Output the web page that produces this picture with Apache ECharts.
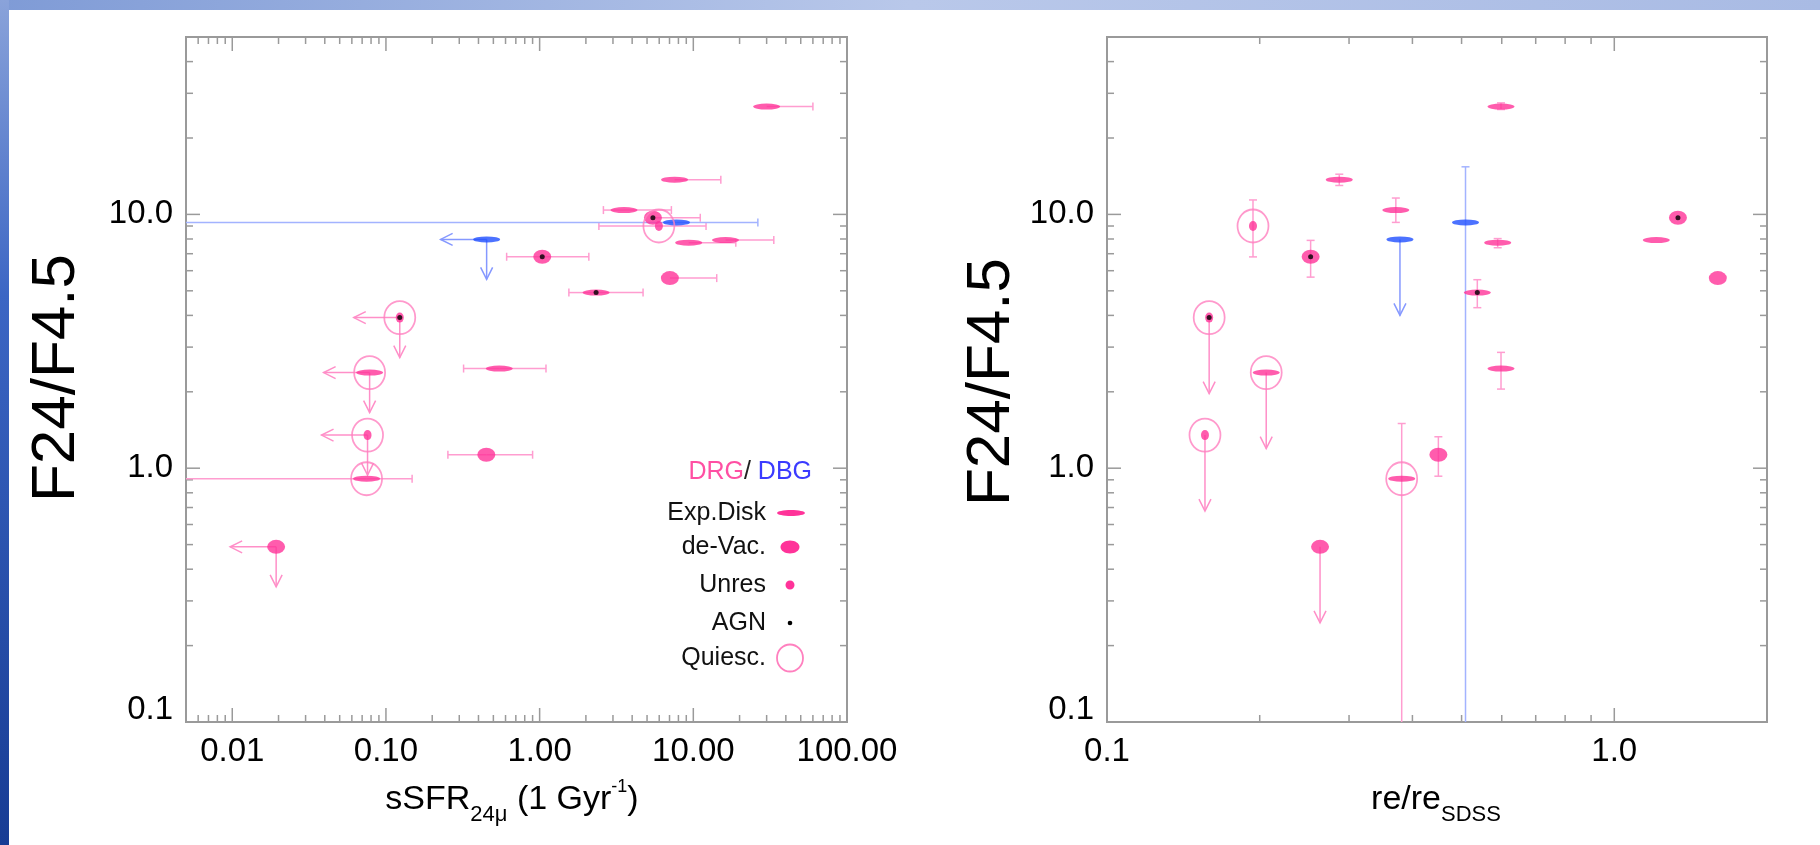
<!DOCTYPE html>
<html><head><meta charset="utf-8">
<script src="https://cdn.jsdelivr.net/npm/echarts@6/dist/echarts.min.js"></script>
<style>html,body{margin:0;padding:0;background:#fff;}#c{width:1820px;height:845px;}</style>
</head><body><div id="c"></div><script>
// ---------------- data (one entry per galaxy) ----------------
const sSFR    = [30.0, 7.55, 3.54, 5.46, 5.97, 7.77, 0.452, 9.33, 16.2, 1.04, 7.04, 2.33, 0.123, 0.0783, 0.546, 0.0759, 0.0748, 0.450, 0.0193];
const sSFRlo  = [null, null, 2.60, null, 2.43, 0.001, null, null, null, 0.61, null, 1.55, null, null, 0.32, null, 0.001, 0.253, null];
const sSFRhi  = [60.0, 15.1, 7.20, 11.1, 12.1, 26.3, null, 18.9, 33.4, 2.09, 14.2, 4.71, null, null, 1.10, null, 0.148, 0.90, null];
const reRatio = [0.598, 0.287, 0.371, 1.335, 0.194, 0.509, 0.378, 0.589, 1.21, 0.252, 1.60, 0.537, 0.159, 0.206, 0.598, 0.156, 0.381, 0.450, 0.263];
const fRatio  = [26.6, 13.7, 10.4, 9.7, 9.0, 9.3, 7.97, 7.74, 7.92, 6.81, 5.61, 4.92, 3.92, 2.38, 2.47, 1.35, 0.909, 1.13, 0.49];
const fLo     = [25.9, 13.0, 9.3, null, 6.8, 0.01, null, 7.39, null, 5.66, null, 4.29, null, null, 2.05, null, 0.01, 0.93, null];
const fHi     = [27.5, 14.4, 11.6, null, 11.4, 15.4, null, 8.03, null, 7.9, null, 5.53, null, null, 2.86, null, 1.50, 1.33, null];
const morph   = ['Exp','Exp','Exp','deV','Unres','Exp','Exp','Exp','Exp','deV','deV','Exp','Unres','Exp','Exp','Unres','Exp','deV','deV'];
const sample  = ['DRG','DRG','DRG','DRG','DRG','DBG','DBG','DRG','DRG','DRG','DRG','DRG','DRG','DRG','DRG','DRG','DRG','DRG','DRG'];
const agn     = [0,0,0,1,0,0,0,0,0,1,0,1,1,0,0,0,0,0,0];
const quiesc  = [0,0,0,0,1,0,0,0,0,0,0,0,1,1,0,1,1,0,0];
const limit   = [0,0,0,0,0,0,1,0,0,0,0,0,1,1,0,1,0,0,1];

// tick labels
const leftXTicks  = [0.01, 0.1, 1, 10, 100];
const leftXLabels = ['0.01', '0.10', '1.00', '10.00', '100.00'];
const rightXTicks  = [0.1, 1];
const rightXLabels = ['0.1', '1.0'];
const yTicks  = [0.1, 1, 10];
const yLabels = ['0.1', '1.0', '10.0'];

const legendRows = ['Exp.Disk', 'de-Vac.', 'Unres', 'AGN', 'Quiesc.'];

// ---------------- styles ----------------
const FONT = '"Liberation Sans", Arial, Helvetica, sans-serif';
const PINK = '#ff3399', PINK_L = '#ff9dd0', PINK_C = '#ff80bf';
const BLUE = '#1f4fff', BLUE_L = '#a3b3ff';
const FRAME = '#9a9a9a';
const SIZE = {Exp: [27, 6], deV: [18, 14], Unres: [8, 10]};

const chart = echarts.init(document.getElementById('c'), null, {renderer: 'canvas', width: 1820, height: 845});

function labelFor(v, ticks, labels) {
  for (let k = 0; k < ticks.length; k++) {
    if (Math.abs(Math.log10(v) - Math.log10(ticks[k])) < 1e-6) return labels[k];
  }
  return '';
}
function minorTicks(min, max) {
  const out = [];
  for (let e = Math.floor(Math.log10(min)) - 1; e <= Math.ceil(Math.log10(max)); e++) {
    for (let m = 1; m <= 9; m++) {
      const v = m * Math.pow(10, e);
      if (v >= min * 0.9999 && v <= max * 1.0001) out.push([v, m === 1 ? 1 : 0]);
    }
  }
  return out;
}
const XL = [0.005, 100], XR = [0.1, 2], YR = [0.1, 50];

function tickData(xr, yr) {
  const d = [];
  minorTicks(xr[0], xr[1]).forEach(t => d.push([t[0], yr[0], t[1], 0]));
  minorTicks(yr[0], yr[1]).forEach(t => d.push([xr[0], t[0], t[1], 1]));
  return d;
}
function tickRender(params, api) {
  const cs = params.coordSys;
  const major = api.value(2), kind = api.value(3);
  const len = major ? 14 : 7;
  const p = api.coord([api.value(0), api.value(1)]);
  const st = {stroke: FRAME, lineWidth: 1.5, fill: 'none'};
  if (kind === 0) {
    const x = p[0], b = cs.y + cs.height, t = cs.y;
    return {type: 'group', children: [
      {type: 'line', shape: {x1: x, y1: b, x2: x, y2: b - len}, style: st},
      {type: 'line', shape: {x1: x, y1: t, x2: x, y2: t + len}, style: st}]};
  }
  const y = p[1], l = cs.x, r = cs.x + cs.width;
  return {type: 'group', children: [
    {type: 'line', shape: {x1: l, y1: y, x2: l + len, y2: y}, style: st},
    {type: 'line', shape: {x1: r, y1: y, x2: r - len, y2: y}, style: st}]};
}

function errRender(horizontal) {
  return function (params, api) {
    const i = api.value(2);
    const x = api.value(0), y = api.value(1);
    const p = api.coord([x, y]);
    const st = {stroke: sample[i] === 'DBG' ? BLUE_L : PINK_L, lineWidth: 1.5, fill: 'none'};
    const bounds = horizontal ? [sSFRlo[i], sSFRhi[i]] : [fLo[i], fHi[i]];
    const ch = [];
    bounds.forEach(b => {
      if (b == null) return;
      const q = horizontal ? api.coord([b, y]) : api.coord([x, b]);
      ch.push({type: 'line', shape: {x1: p[0], y1: p[1], x2: q[0], y2: q[1]}, style: st});
      if (horizontal) ch.push({type: 'line', shape: {x1: q[0], y1: q[1] - 4, x2: q[0], y2: q[1] + 4}, style: st});
      else ch.push({type: 'line', shape: {x1: q[0] - 4, y1: q[1], x2: q[0] + 4, y2: q[1]}, style: st});
    });
    return {type: 'group', children: ch};
  };
}

function arrowRender(leftLen, downLen) {
  return function (params, api) {
    const i = api.value(2);
    const p = api.coord([api.value(0), api.value(1)]);
    const st = {stroke: sample[i] === 'DBG' ? '#8598ff' : '#ff8fc8', lineWidth: 1.5, fill: 'none'};
    const ch = [];
    if (leftLen > 0) {
      const ex = p[0] - leftLen, ey = p[1];
      ch.push({type: 'line', shape: {x1: p[0], y1: ey, x2: ex, y2: ey}, style: st});
      ch.push({type: 'polyline', shape: {points: [[ex + 12, ey - 6], [ex, ey], [ex + 12, ey + 6]]}, style: st});
    }
    const dx = p[0], dy = p[1] + downLen;
    ch.push({type: 'line', shape: {x1: dx, y1: p[1], x2: dx, y2: dy}, style: st});
    ch.push({type: 'polyline', shape: {points: [[dx - 6, dy - 12], [dx, dy], [dx + 6, dy - 12]]}, style: st});
    return {type: 'group', children: ch};
  };
}

const xsOf = [sSFR, reRatio];
function idx(pred) { const a = []; for (let i = 0; i < fRatio.length; i++) if (pred(i)) a.push(i); return a; }

const series = [];
[0, 1].forEach(g => {
  const xr = g === 0 ? XL : XR;
  const X = xsOf[g];
  series.push({type: 'custom', name: 'ticks' + g, xAxisIndex: g, yAxisIndex: g, silent: true, clip: false, z: 1,
    data: tickData(xr, YR), renderItem: tickRender});
  series.push({type: 'custom', name: 'errors' + g, xAxisIndex: g, yAxisIndex: g, silent: true, clip: true, z: 2,
    data: idx(i => g === 0 ? (sSFRlo[i] != null || sSFRhi[i] != null) : (fLo[i] != null || fHi[i] != null))
      .map(i => [X[i], fRatio[i], i]),
    renderItem: errRender(g === 0)});
  series.push({type: 'custom', name: 'limits' + g, xAxisIndex: g, yAxisIndex: g, silent: true, clip: true, z: 3,
    data: idx(i => limit[i]).map(i => [X[i], fRatio[i], i]),
    renderItem: g === 0 ? arrowRender(46, 40) : arrowRender(0, 76)});
  [['Exp', 'Exp.Disk'], ['deV', 'de-Vac.'], ['Unres', 'Unres']].forEach(([m, nm]) => {
    series.push({type: 'scatter', name: nm, xAxisIndex: g, yAxisIndex: g, symbol: 'circle', symbolSize: SIZE[m], z: 4,
      data: idx(i => morph[i] === m).map(i => ({value: [X[i], fRatio[i]], itemStyle: {color: sample[i] === 'DBG' ? BLUE : PINK}}))});
  });
  series.push({type: 'scatter', name: 'AGN', xAxisIndex: g, yAxisIndex: g, symbol: 'circle', symbolSize: 5, z: 5,
    itemStyle: {color: '#000'}, data: idx(i => agn[i]).map(i => [X[i], fRatio[i]])});
  series.push({type: 'scatter', name: 'Quiesc.', xAxisIndex: g, yAxisIndex: g, symbol: 'circle', symbolSize: [31, 33], z: 6,
    itemStyle: {color: 'rgba(0,0,0,0)', borderColor: PINK_C, borderWidth: 1.8},
    data: idx(i => quiesc[i]).map(i => [X[i], fRatio[i]])});
});

function xAx(g, r, ticks, labels) {
  return {type: 'log', logBase: 10, gridIndex: g, min: r[0], max: r[1],
    axisLine: {show: false}, axisTick: {show: false}, splitLine: {show: false},
    axisLabel: {show: true, showMinLabel: true, showMaxLabel: true, margin: 13, fontSize: 33, fontFamily: FONT, color: '#000',
      formatter: v => labelFor(v, ticks, labels)}};
}
function yAx(g) {
  return {type: 'log', logBase: 10, gridIndex: g, min: YR[0], max: YR[1],
    axisLine: {show: false}, axisTick: {show: false}, splitLine: {show: false},
    axisLabel: {show: true, showMinLabel: true, showMaxLabel: true, margin: 13, fontSize: 33, fontFamily: FONT, color: '#000',
      formatter: v => { const s = labelFor(v, yTicks, yLabels); return s === '0.1' ? '{lo|0.1}' : s; },
      rich: {lo: {fontSize: 33, fontFamily: FONT, color: '#000', padding: [0, 0, 24, 0]}}}};
}

// legend (manual key, as in the figure)
const legendG = [];
legendG.push({type: 'text', x: 812, y: 472, style: {
  text: '{p|DRG}{k|/ }{b|DBG}', align: 'right', verticalAlign: 'middle',
  rich: {p: {fontSize: 25, fontFamily: FONT, fill: '#ff4fa3'},
         k: {fontSize: 25, fontFamily: FONT, fill: '#222'},
         b: {fontSize: 25, fontFamily: FONT, fill: '#3b3bff'}}}});
const rowY = [513, 547, 585, 623, 658];
legendRows.forEach((t, k) => legendG.push({type: 'text', x: 766, y: rowY[k],
  style: {text: t, fontSize: 25, fontFamily: FONT, fill: '#111', align: 'right', verticalAlign: 'middle'}}));
legendG.push({type: 'ellipse', shape: {cx: 791, cy: rowY[0], rx: 14, ry: 3}, style: {fill: PINK}});
legendG.push({type: 'ellipse', shape: {cx: 790, cy: rowY[1], rx: 9.5, ry: 6.5}, style: {fill: PINK}});
legendG.push({type: 'ellipse', shape: {cx: 790, cy: rowY[2], rx: 4.5, ry: 4.5}, style: {fill: PINK}});
legendG.push({type: 'circle', shape: {cx: 790, cy: rowY[3], r: 2.3}, style: {fill: '#000'}});
legendG.push({type: 'ellipse', shape: {cx: 790, cy: rowY[4], rx: 13, ry: 13.5}, style: {fill: 'none', stroke: PINK_C, lineWidth: 1.8}});

const titleRich = {
  m: {fontSize: 34, fontFamily: FONT, fill: '#000', lineHeight: 52},
  s: {fontSize: 22, fontFamily: FONT, fill: '#000', lineHeight: 22, verticalAlign: 'bottom'},
  u: {fontSize: 18, fontFamily: FONT, fill: '#000', lineHeight: 18, verticalAlign: 'top', padding: [4, 0, 0, 0]}
};

const option = {
  animation: false,
  backgroundColor: '#ffffff',
  textStyle: {fontFamily: FONT},
  grid: [
    {left: 186, top: 37, width: 661, height: 685, show: true, borderColor: FRAME, borderWidth: 2, backgroundColor: '#fff', containLabel: false},
    {left: 1107, top: 37, width: 660, height: 685, show: true, borderColor: FRAME, borderWidth: 2, backgroundColor: '#fff', containLabel: false}
  ],
  xAxis: [xAx(0, XL, leftXTicks, leftXLabels), xAx(1, XR, rightXTicks, rightXLabels)],
  yAxis: [yAx(0), yAx(1)],
  series: series,
  graphic: [
    {type: 'rect', z: -10, shape: {x: 0, y: 0, width: 1820, height: 10},
      style: {fill: new echarts.graphic.LinearGradient(0, 0, 1, 0, [
        {offset: 0, color: '#7f9bd6'}, {offset: 0.5, color: '#b9c8ea'}, {offset: 1, color: '#a9bbe4'}])}},
    {type: 'rect', z: -10, shape: {x: 0, y: 0, width: 9, height: 845},
      style: {fill: new echarts.graphic.LinearGradient(0, 0, 0, 1, [
        {offset: 0, color: '#8aa3da'}, {offset: 0.35, color: '#3c66c4'}, {offset: 1, color: '#173c94'}])}},
    {type: 'text', x: 57, y: 378, rotation: Math.PI / 2,
      style: {text: 'F24/F4.5', fontSize: 62, fontFamily: FONT, fill: '#000', align: 'center', verticalAlign: 'middle'}},
    {type: 'text', x: 992, y: 382, rotation: Math.PI / 2,
      style: {text: 'F24/F4.5', fontSize: 62, fontFamily: FONT, fill: '#000', align: 'center', verticalAlign: 'middle'}},
    {type: 'text', x: 512, y: 800,
      style: {text: '{m|sSFR}{s|24μ}{m| (1 Gyr}{u|-1}{m|)}', rich: titleRich, align: 'center', verticalAlign: 'middle'}},
    {type: 'text', x: 1436, y: 800,
      style: {text: '{m|re/re}{s|SDSS}', rich: titleRich, align: 'center', verticalAlign: 'middle'}}
  ].concat(legendG)
};
chart.setOption(option);
</script></body></html>
